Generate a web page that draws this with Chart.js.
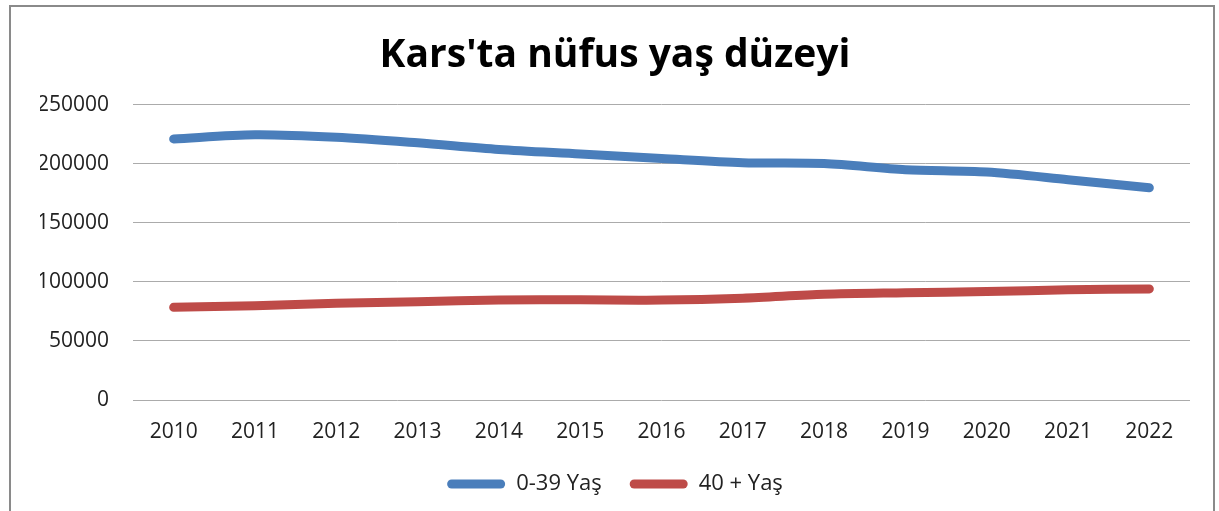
<!DOCTYPE html>
<html>
<head>
<meta charset="utf-8">
<script src="https://cdn.jsdelivr.net/npm/chart.js@4.4.1/dist/chart.umd.min.js"></script>
<style>
  html, body { margin: 0; padding: 0; background: #fff; }
  #wrap { position: absolute; left: 0; top: 0; width: 1219px; height: 511px; }
  #frame { position: absolute; left: 9px; top: 5px; width: 1206px; height: 520px; border: 2px solid #8a8a8a; box-sizing: border-box; pointer-events: none; }
</style>
</head>
<body>
<div id="wrap"><canvas id="c" width="1219" height="511"></canvas></div>
<div id="frame"></div>
<script>
const years = ['2010','2011','2012','2013','2014','2015','2016','2017','2018','2019','2020','2021','2022'];
const young = [221100, 224600, 222500, 217800, 212200, 208400, 204500, 200900, 200200, 195000, 193000, 186600, 179700];
const older = [78500, 79900, 81900, 83300, 84700, 84800, 84600, 86200, 89500, 90800, 91900, 93300, 94100];
const seriesNames = ['0-39 Yaş', '40 + Yaş'];
const yTicks = [0, 50000, 100000, 150000, 200000, 250000];
const titleText = "Kars'ta nüfus yaş düzeyi";

const FONT = "'Open Sans', sans-serif";
const ctx = document.getElementById('c').getContext('2d');
new Chart(ctx, {
  type: 'line',
  data: {
    labels: years,
    datasets: [
      { label: seriesNames[0], data: young, borderColor: '#4A7EBB', backgroundColor: '#4A7EBB',
        borderWidth: 9, pointRadius: 0, tension: 0.3, borderCapStyle: 'round', borderJoinStyle: 'round', fill: false },
      { label: seriesNames[1], data: older, borderColor: '#BE4B48', backgroundColor: '#BE4B48',
        borderWidth: 9, pointRadius: 0, tension: 0.3, borderCapStyle: 'round', borderJoinStyle: 'round', fill: false }
    ]
  },
  options: {
    responsive: false,
    animation: false,
    devicePixelRatio: 1,
    layout: { padding: { left: 40, right: 29, top: 0, bottom: 6 } },
    plugins: {
      title: {
        display: true, text: titleText, color: '#000',
        font: { family: FONT, size: 39, weight: 'bold' },
        padding: { top: 32, bottom: 26 }
      },
      legend: {
        position: 'bottom',
        labels: {
          color: '#222',
          font: { family: FONT, size: 22 },
          boxWidth: 58, boxHeight: 9, useBorderRadius: true, borderRadius: 4.5,
          padding: 28,
          generateLabels: (chart) => Chart.defaults.plugins.legend.labels.generateLabels(chart).map(l => {
            l.lineWidth = 0; l.strokeStyle = 'rgba(0,0,0,0)';
            l.fillStyle = chart.data.datasets[l.datasetIndex].borderColor;
            return l;
          })
        }
      },
      tooltip: { enabled: false }
    },
    scales: {
      x: {
        offset: true,
        afterFit: (s) => { s.height = 45; },
        grid: { display: false, drawTicks: false },
        border: { display: false },
        ticks: { color: '#222', font: { family: FONT, size: 21 }, padding: 19, maxRotation: 0, autoSkip: false }
      },
      y: {
        min: 0, max: 250000,
        afterBuildTicks: (s) => { s.ticks = yTicks.map(v => ({ value: v })); },
        afterFit: (s) => { s.width = 93; },
        grid: { color: '#ababab', lineWidth: 1, drawTicks: false },
        border: { display: false },
        ticks: { color: '#222', font: { family: FONT, size: 21 }, padding: 24, callback: (v) => String(v) }
      }
    }
  }
});
</script>
</body>
</html>
